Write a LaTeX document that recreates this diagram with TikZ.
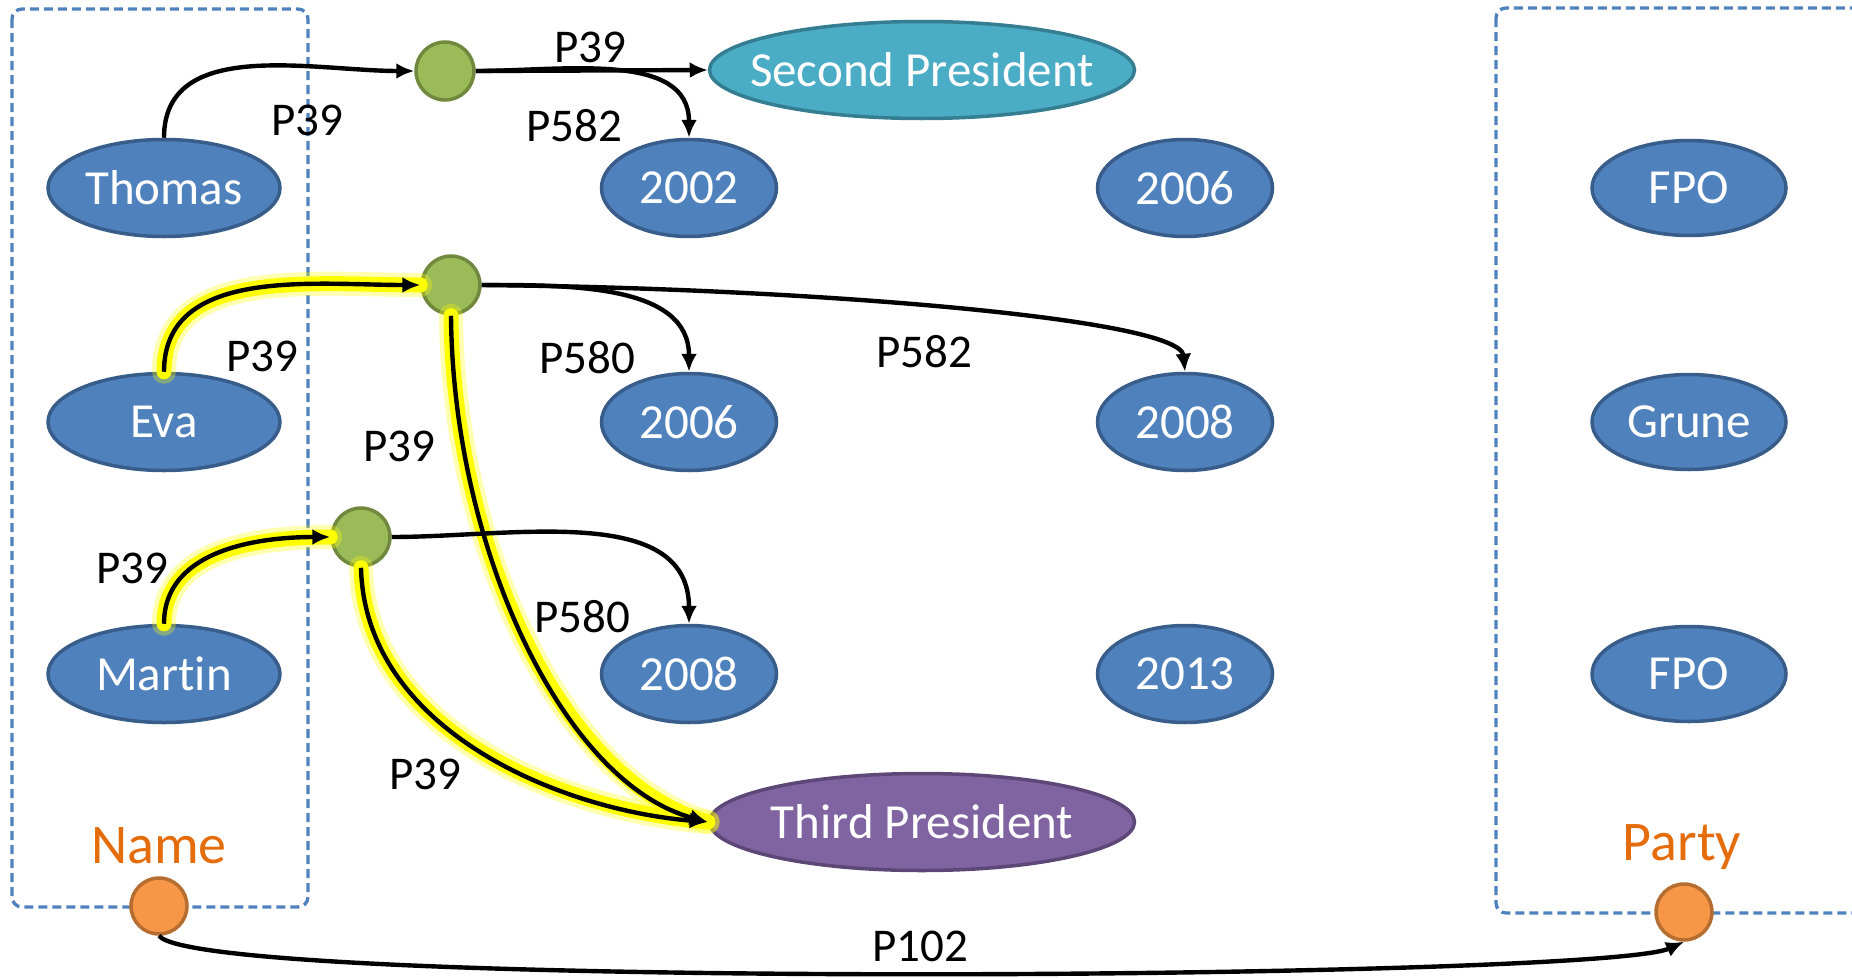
\documentclass[tikz,border=0pt]{standalone}
\usepackage{fontspec}
\setmainfont[Ligatures=NoCommon]{Carlito}
\usetikzlibrary{arrows.meta,shapes.geometric}

\definecolor{nodeblue}{HTML}{4F81BD}
\definecolor{nodeedge}{HTML}{385D8A}
\definecolor{tealfill}{HTML}{4BACC6}
\definecolor{tealedge}{HTML}{357D91}
\definecolor{purplefill}{HTML}{8064A2}
\definecolor{purpleedge}{HTML}{5C4776}
\definecolor{greenfill}{HTML}{9BBB59}
\definecolor{greenedge}{HTML}{71893F}
\definecolor{orangefill}{HTML}{F79646}
\definecolor{orangeedge}{HTML}{B66D31}
\definecolor{classorange}{HTML}{E46C0A}
\definecolor{glowyellow}{HTML}{FFFF00}
\definecolor{groupblue}{HTML}{4F81BD}

\tikzset{
  entity/.style={ellipse, draw=nodeedge, fill=nodeblue, line width=3.5pt,
    text=white, minimum width=232pt, minimum height=97pt, inner sep=0pt,
    font=\fontsize{49}{58}\selectfont},
  yearnode/.style={entity, minimum width=175pt},
  partynode/.style={entity, minimum width=194pt, minimum height=95pt},
  secondnode/.style={entity, minimum width=425pt, fill=tealfill, draw=tealedge},
  thirdnode/.style={entity, minimum width=425pt, fill=purplefill, draw=purpleedge},
  hub/.style={circle, draw=greenedge, fill=greenfill, line width=3.5pt,
    minimum size=58pt, inner sep=0pt},
  classdot/.style={circle, draw=orangeedge, fill=orangefill, line width=3.5pt,
    minimum size=56pt, inner sep=0pt},
  group/.style={draw=groupblue, line width=3.3pt, dash pattern=on 9pt off 5pt,
    rounded corners=10pt},
  rel/.style={draw=black, line width=4.4pt, -{Latex[length=18pt,width=16pt]}},
  glowsoft/.style={draw=glowyellow, line width=24pt, line cap=round, opacity=0.3},
  glowcore/.style={draw=glowyellow, line width=15pt, line cap=round},
  lbl/.style={font=\fontsize{47}{56}\selectfont, text=black, inner sep=0pt},
  classlbl/.style={font=\fontsize{56}{66}\selectfont, text=classorange, inner sep=0pt}
}

\begin{document}
\begin{tikzpicture}[x=1pt,y=-1pt]
  \useasboundingbox (0,0) rectangle (1852,977);
  \clip (0,0) rectangle (1852,977);

  % dashed groups
  \draw[group] (12,9) rectangle (308,907);
  \draw[group] (1496,8) rectangle (1890,913);

  % entities
  \node[entity] (thomas) at (164,188) {Thomas};
  \node[entity] (eva) at (164,422) {Eva};
  \node[entity] (martin) at (164,674) {Martin};

  \node[yearnode] (y2002) at (689,188) {2002};
  \node[yearnode] (y2006a) at (1185,188) {2006};
  \node[yearnode] (y2006b) at (689,422) {2006};
  \node[yearnode] (y2008a) at (1185,422) {2008};
  \node[yearnode] (y2008b) at (689,674) {2008};
  \node[yearnode] (y2013) at (1185,674) {2013};

  \node[partynode] (fpoa) at (1689,188) {FPO};
  \node[partynode] (grune) at (1689,422) {Grune};
  \node[partynode] (fpob) at (1689,674) {FPO};

  \node[secondnode] (second) at (922,70) {\makebox[0pt]{Second President}};
  \node[thirdnode] (third) at (922,822) {\makebox[0pt]{Third President}};

  \node[hub] (h1) at (445,71) {};
  \node[hub] (h2) at (451,285) {};
  \node[hub] (h3) at (361,537) {};

  \node[classdot] (namept) at (159,906) {};
  \node[classdot] (partypt) at (1684,912) {};

  \node[classlbl] (namelbl) at (159,846) {Name};
  \node[classlbl] (partylbl) at (1682,847) {Party};

  % highlighted paths: glow underneath
  \foreach \g in {glowsoft,glowcore}{
    \draw[\g] (eva.north) to[out=90,in=180] (h2.west);
    \draw[\g] (martin.north) to[out=90,in=180] (h3.west);
    \draw[\g] (h2.south) .. controls (453,550) and (564,783) .. (third.west);
    \draw[\g] (h3.south) .. controls (365,730) and (560,810) .. (third.west);
  }

  % relations
  \draw[rel] (thomas.north) to[out=90,in=180] (h1.west);
  \draw[rel] (h1.east) -- (second.west);
  \draw[rel] (h1.east) to[out=0,in=90] (y2002.north);

  \draw[rel] (eva.north) to[out=90,in=180] (h2.west);
  \draw[rel] (h2.east) to[out=0,in=90] (y2006b.north);
  \draw[rel] (h2.east) .. controls (800,288) and (1180,318) .. (y2008a.north);
  \draw[rel] (h2.south) .. controls (453,550) and (564,783) .. (third.west);

  \draw[rel] (martin.north) to[out=90,in=180] (h3.west);
  \draw[rel] (h3.east) to[out=0,in=90] (y2008b.north);
  \draw[rel] (h3.south) .. controls (365,730) and (560,810) .. (third.west);

  \draw[rel] (namept.south) .. controls (200,990) and (1600,980) .. (partypt.south);

  % relation labels
  \node[lbl] (l1) at (590,47) {P39};
  \node[lbl] (l2) at (307,120) {P39};
  \node[lbl] (l3) at (574,126) {P582};
  \node[lbl] (l4) at (262,356) {P39};
  \node[lbl] (l5) at (587,358) {P580};
  \node[lbl] (l6) at (924,352) {P582};
  \node[lbl] (l7) at (399,446) {P39};
  \node[lbl] (l8) at (132,568) {P39};
  \node[lbl] (l9) at (582,617) {P580};
  \node[lbl] (l10) at (425,774) {P39};
  \node[lbl] (l11) at (920,946) {P102};
\end{tikzpicture}
\end{document}
